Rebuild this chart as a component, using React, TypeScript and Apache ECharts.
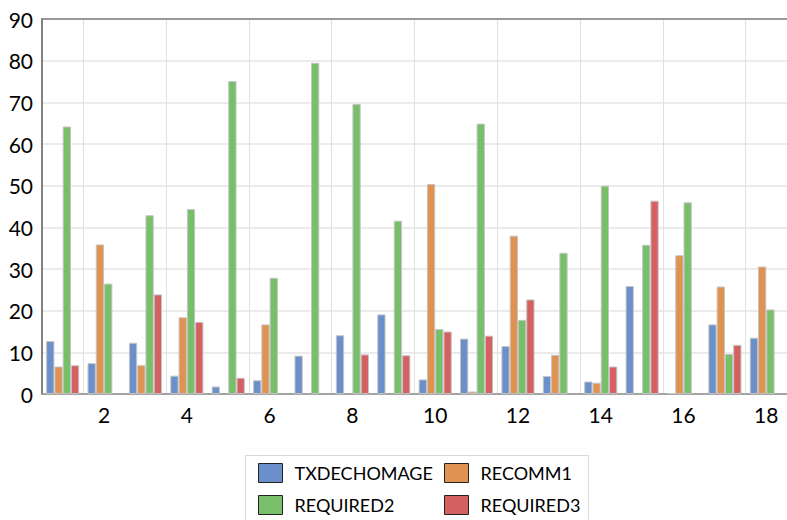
import React, { useEffect, useRef } from "react";
import * as echarts from "echarts";

const categories = ["1","2","3","4","5","6","7","8","9","10","11","12","13","14","15","16","17","18"];
const txdechomage = [12.7, 7.4, 12.3, 4.4, 1.8, 3.3, 9.2, 14.1, 19.1, 3.5, 13.3, 11.5, 4.3, 3.0, 25.9, 0.2, 16.7, 13.5];
const recomm1 = [6.6, 35.9, 6.9, 18.4, 0, 16.7, 0, 0, 0, 50.4, 0.6, 38.0, 9.4, 2.7, 0, 33.3, 25.8, 30.6];
const required2 = [64.2, 26.5, 42.9, 44.4, 75.1, 27.9, 79.5, 69.6, 41.6, 15.6, 64.9, 17.8, 33.9, 50.0, 35.8, 46.0, 9.6, 20.3];
const required3 = [6.9, 0, 23.9, 17.3, 3.9, 0, 0, 9.5, 9.3, 15.0, 14.0, 22.7, 0, 6.6, 46.4, 0, 11.8, 0];
const seriesNames = ["TXDECHOMAGE", "RECOMM1", "REQUIRED2", "REQUIRED3"];
const colors = ["#6b8fca", "#e09250", "#78bf69", "#d56062"];

export default function App() {
  const ref = useRef<HTMLDivElement>(null);
  useEffect(() => {
    if (!ref.current) return;
    const chart = echarts.init(ref.current, null, { renderer: "svg" });
    const font = "Lato, 'Open Sans', sans-serif";
    const data = [txdechomage, recomm1, required2, required3];
    const legendBase = {
      orient: "vertical",
      top: 463,
      padding: 0,
      itemWidth: 24,
      itemHeight: 19,
      itemGap: 12,
      icon: "rect",
      itemStyle: { borderColor: "#222", borderWidth: 1 },
      textStyle: { fontSize: 18, color: "#000", fontFamily: font, padding: [0, 0, 0, 7] },
    };
    chart.setOption({
      animation: false,
      textStyle: { fontFamily: font },
      grid: { left: 42, right: -6, top: 19, bottom: 126, containLabel: false },
      legend: [
        { ...legendBase, data: [seriesNames[0], seriesNames[2]], left: 258 },
        { ...legendBase, data: [seriesNames[1], seriesNames[3]], left: 444 },
      ],
      graphic: [
        {
          type: "rect",
          shape: { x: 245.5, y: 455.5, width: 343, height: 80 },
          style: { fill: "none", stroke: "#d9d9d9", lineWidth: 1 },
          silent: true,
        },
      ],
      xAxis: [
        {
          type: "category",
          data: categories,
          boundaryGap: true,
          axisLine: { show: true, lineStyle: { color: "#8c8c8c", width: 1.5 } },
          axisTick: { show: false },
          axisLabel: {
            interval: (i: number) => i % 2 === 1,
            fontSize: 21,
            color: "#000",
            margin: 10,
            fontFamily: font,
          },
          splitLine: {
            show: true,
            interval: (i: number) => i % 2 === 1,
            lineStyle: { color: "#e0e0e0", width: 1 },
          },
        },
        {
          type: "category",
          data: categories,
          position: "top",
          axisLine: { show: true, lineStyle: { color: "#7f7f7f", width: 1.5 } },
          axisTick: { show: false },
          axisLabel: { show: false },
          splitLine: { show: false },
        },
      ],
      yAxis: {
        type: "value",
        min: 0,
        max: 90,
        interval: 10,
        axisLine: { show: true, lineStyle: { color: "#595959", width: 1.5 } },
        axisTick: { show: false },
        axisLabel: { fontSize: 21, color: "#000", margin: 9, fontFamily: font },
        splitLine: { show: true, lineStyle: { color: "#e4e4e4", width: 1.5 } },
      },
      series: seriesNames.map((name, k) => ({
        name,
        type: "bar",
        data: data[k].map((v) => (v === 0 ? "-" : v)),
        xAxisIndex: 0,
        barGap: "0%",
        barCategoryGap: "20%",
        itemStyle: { color: colors[k], borderColor: "#c4c4c4", borderWidth: 1 },
      })),
    });
    return () => chart.dispose();
  }, []);
  return (
    <div
      ref={ref}
      style={{ position: "absolute", left: 0, top: 0, width: 787, height: 520, overflow: "hidden" }}
    />
  );
}
